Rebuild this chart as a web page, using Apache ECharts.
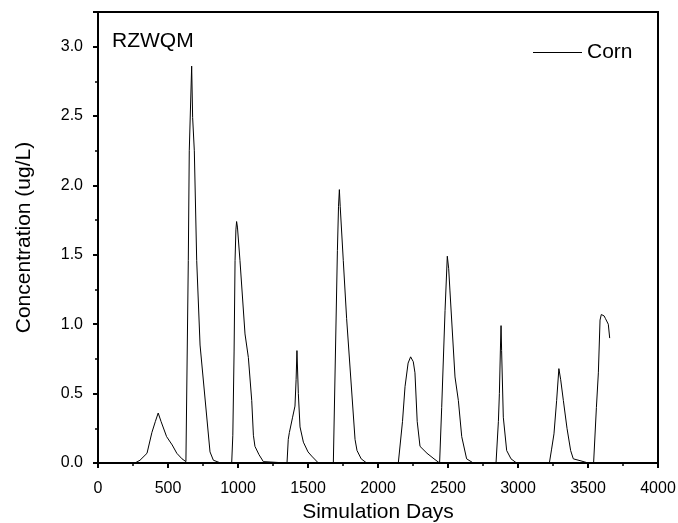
<!DOCTYPE html>
<html>
<head>
<meta charset="utf-8">
<script src="https://cdn.jsdelivr.net/npm/echarts@6/dist/echarts.min.js"></script>
<style>html,body{margin:0;padding:0;background:#fff}#c{width:678px;height:523px}</style>
</head>
<body>
<div id="c"></div>
<script>
const seriesName = 'Corn';
const panelLabel = 'RZWQM';
const xTitle = 'Simulation Days';
const yTitle = 'Concentration (ug/L)';
const days = [
  0, 264, 300, 350, 385, 410, 430, 450, 490, 530, 563, 600, 628, 636,
  645, 652, 669, 676, 688, 705, 729, 800, 824, 876,
  955, 963, 972, 979, 985, 990, 996, 1014, 1050, 1074, 1098, 1110, 1121, 1150, 1181, 1190,
  1350, 1359, 1367, 1390, 1407, 1415, 1421, 1431, 1443, 1467, 1500, 1526, 1574,
  1681, 1710, 1718, 1724, 1730, 1752, 1776, 1836, 1850, 1880, 1919,
  2145, 2175, 2193, 2215, 2233, 2252, 2264, 2280, 2300, 2350, 2400, 2440,
  2443, 2455, 2479, 2495, 2505, 2514, 2550, 2574, 2598, 2633, 2681,
  2843, 2860, 2867, 2875, 2879, 2883, 2895, 2919, 2950, 2990,
  3224, 3240, 3257, 3276, 3292, 3305, 3324, 3350, 3376, 3395, 3450, 3502,
  3540, 3560, 3574, 3586, 3595, 3602, 3615, 3625, 3633, 3638, 3645, 3655
];
const conc = [
  0, 0, 0.02, 0.07, 0.22, 0.30, 0.36, 0.30, 0.19, 0.13, 0.07, 0.03, 0.01, 0,
  1.46, 2.25, 2.86, 2.49, 2.25, 1.46, 0.85, 0.08, 0.02, 0,
  0, 0.2, 0.8, 1.46, 1.68, 1.74, 1.70, 1.46, 0.93, 0.76, 0.45, 0.2, 0.12, 0.06, 0.01, 0,
  0, 0.17, 0.22, 0.33, 0.41, 0.6, 0.81, 0.5, 0.26, 0.15, 0.08, 0.05, 0,
  0, 1.53, 1.85, 1.97, 1.85, 1.46, 1.04, 0.17, 0.09, 0.03, 0,
  0, 0.3, 0.55, 0.72, 0.765, 0.73, 0.65, 0.3, 0.12, 0.07, 0.03, 0,
  0, 0.4, 1.1, 1.49, 1.4, 1.24, 0.62, 0.45, 0.19, 0.03, 0,
  0, 0.3, 0.5, 0.85, 0.99, 0.81, 0.33, 0.09, 0.03, 0,
  0, 0.1, 0.21, 0.45, 0.68, 0.6, 0.45, 0.25, 0.09, 0.03, 0.015, 0,
  0, 0.4, 0.65, 1.03, 1.07, 1.08, 1.06, 1.04, 1.03, 1.04, 1.0, 0.90
];
const xTicks = [0, 500, 1000, 1500, 2000, 2500, 3000, 3500, 4000];
const yTicks = [0.0, 0.5, 1.0, 1.5, 2.0, 2.5, 3.0];

const data = days.map((d, i) => [d, conc[i]]);
const chart = echarts.init(document.getElementById('c'), null, {renderer: 'canvas'});
const FONT = 'Liberation Sans, Arial, sans-serif';
chart.setOption({
  animation: false,
  backgroundColor: '#fff',
  textStyle: {fontFamily: FONT, color: '#000'},
  title: {
    text: panelLabel, left: 107, top: 26,
    textStyle: {fontFamily: FONT, fontSize: 21, fontWeight: 'normal', color: '#000'}
  },
  legend: {
    data: [{name: seriesName, icon: 'rect'}], left: 528, top: 37,
    itemWidth: 49, itemHeight: 1.2, itemGap: 5,
    itemStyle: {color: '#000', borderWidth: 0},
    textStyle: {fontFamily: FONT, fontSize: 21, color: '#000'}
  },
  grid: {left: 98, right: 20, top: 12, bottom: 60, show: true, borderColor: '#000', borderWidth: 2,
    containLabel: false, outerBoundsMode: 'none'},
  xAxis: {
    type: 'value', min: xTicks[0], max: xTicks[xTicks.length - 1], interval: 500,
    name: xTitle, nameLocation: 'middle', nameGap: 39,
    nameTextStyle: {fontFamily: FONT, fontSize: 21, color: '#000'},
    axisLine: {show: true, onZero: false, lineStyle: {color: '#000', width: 2}},
    axisTick: {show: true, length: 5, lineStyle: {color: '#000', width: 2}},
    minorTick: {show: true, splitNumber: 2, length: 3, lineStyle: {color: '#000', width: 1.5}},
    splitLine: {show: false},
    axisLabel: {fontFamily: FONT, fontSize: 16, color: '#000', margin: 18,
      formatter: v => (xTicks.indexOf(v) >= 0 ? String(v) : '')}
  },
  yAxis: {
    type: 'value', min: 0, max: 3.25, interval: 0.5,
    name: yTitle, nameLocation: 'middle', nameGap: 63, nameRotate: 90,
    nameTextStyle: {fontFamily: FONT, fontSize: 21, color: '#000'},
    axisLine: {show: true, onZero: false, lineStyle: {color: '#000', width: 2}},
    axisTick: {show: true, length: 5, lineStyle: {color: '#000', width: 2}},
    minorTick: {show: true, splitNumber: 2, length: 3, lineStyle: {color: '#000', width: 1.5}},
    splitLine: {show: false},
    axisLabel: {fontFamily: FONT, fontSize: 16, color: '#000', margin: 15, showMaxLabel: false,
      formatter: v => (yTicks.indexOf(v) >= 0 ? v.toFixed(1) : '')}
  },
  series: [{
    name: seriesName, type: 'line', data: data, symbol: 'none',
    lineStyle: {color: '#000', width: 1}, itemStyle: {color: '#000'}
  }]
});
</script>
</body>
</html>
